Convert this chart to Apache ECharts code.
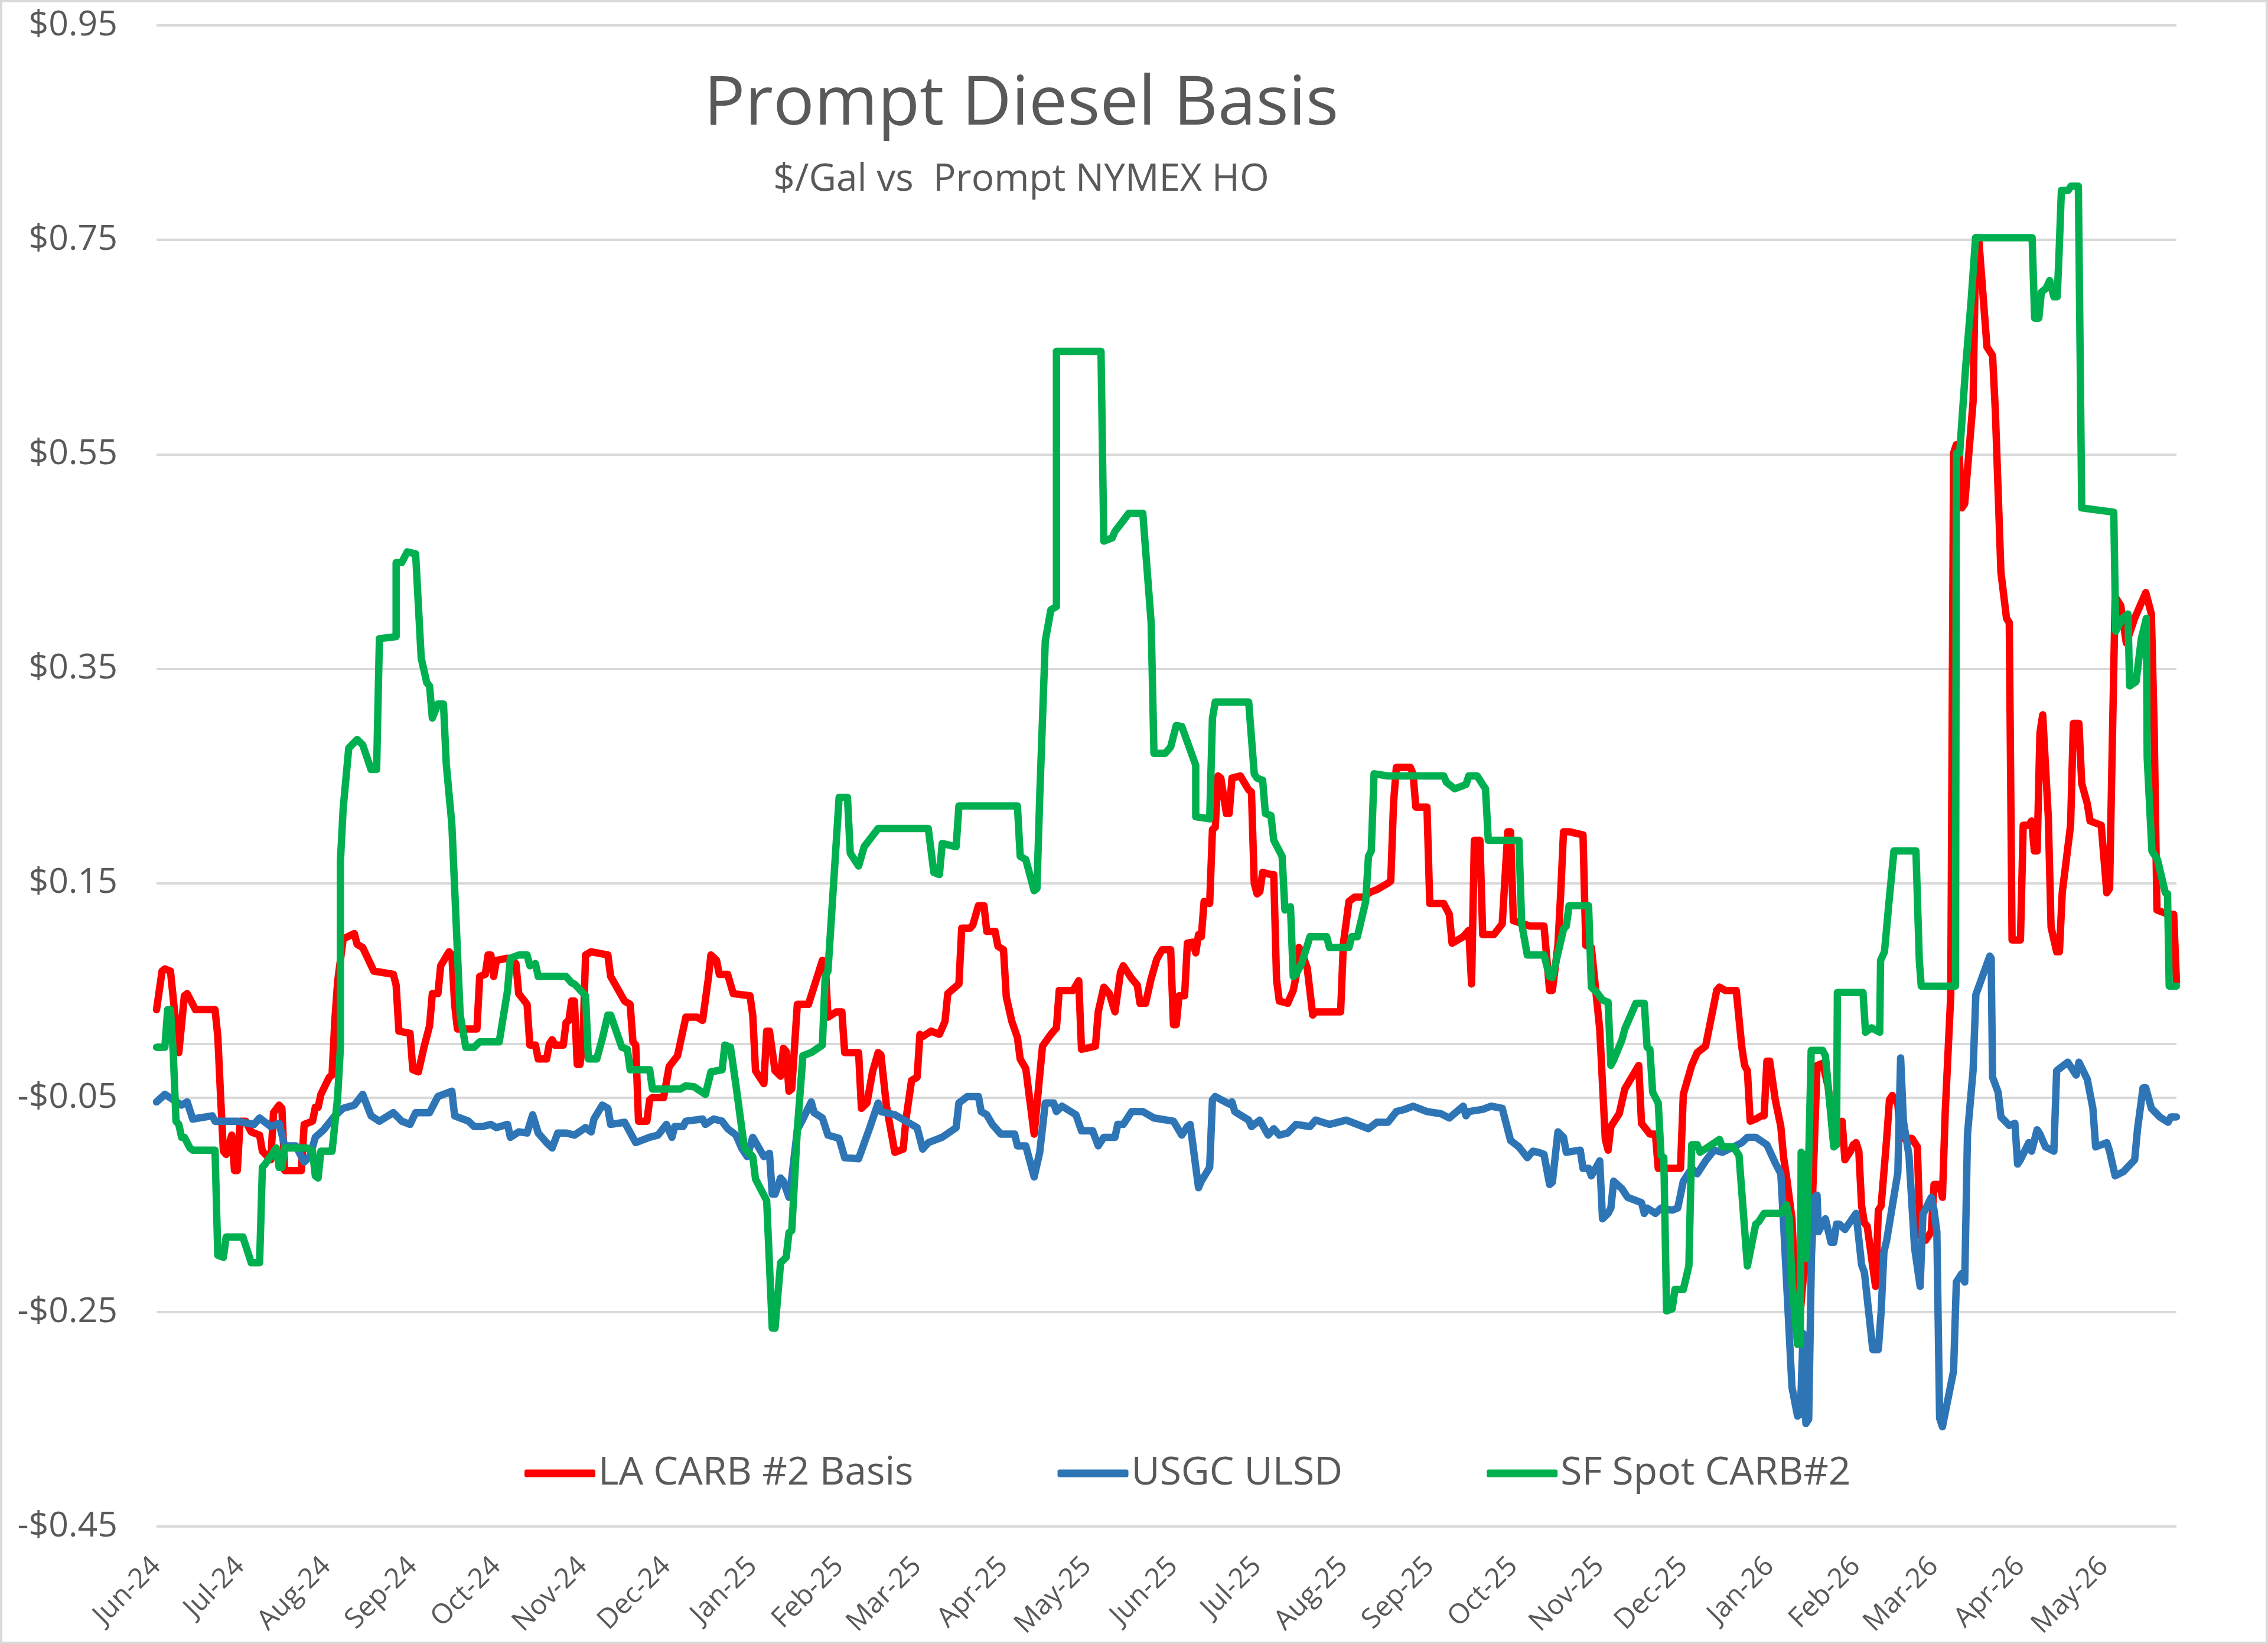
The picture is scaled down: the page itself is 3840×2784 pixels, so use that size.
<!DOCTYPE html>
<html>
<head>
<meta charset="utf-8">
<title>Prompt Diesel Basis</title>
<script src="https://cdn.jsdelivr.net/npm/echarts@6/dist/echarts.min.js"></script>
<style>
  html, body { margin: 0; padding: 0; background: #ffffff; }
  #chart { width: 3840px; height: 2784px; }
</style>
</head>
<body>
<div id="chart"></div>
<script>
// x = days since 2024-06-01, y = $/gal vs prompt NYMEX HO
const START = Date.UTC(2024, 5, 1);
const DAY = 86400000;
const AXIS_DAYS = 725;

const monthLabels = ['Jun-24', 'Jul-24', 'Aug-24', 'Sep-24', 'Oct-24', 'Nov-24', 'Dec-24',
  'Jan-25', 'Feb-25', 'Mar-25', 'Apr-25', 'May-25', 'Jun-25', 'Jul-25', 'Aug-25', 'Sep-25',
  'Oct-25', 'Nov-25', 'Dec-25', 'Jan-26', 'Feb-26', 'Mar-26', 'Apr-26', 'May-26'];

const seriesNames = ['LA CARB #2 Basis', 'USGC ULSD', 'SF Spot CARB#2'];

// LA CARB #2 Basis [day, value]
const laBasis = [[0,0.032],[2,0.068],[3,0.070],[5,0.068],[8,-0.008],[10,0.045],[11,0.047],[14,0.032],[21,0.032],[22,0.007],[23,-0.049],[24,-0.100],[25,-0.103],[27,-0.085],[28,-0.118],[29,-0.118],[30,-0.072],[32,-0.072],[34,-0.082],[37,-0.085],[38,-0.100],[41,-0.108],[42,-0.064],[44,-0.057],[45,-0.060],[46,-0.118],[52,-0.118],[53,-0.075],[56,-0.072],[57,-0.059],[58,-0.059],[59,-0.047],[62,-0.031],[63,-0.029],[64,0.022],[65,0.058],[67,0.098],[71,0.103],[72,0.093],[74,0.090],[78,0.068],[85,0.065],[86,0.055],[87,0.012],[91,0.010],[92,-0.024],[94,-0.026],[96,-0.003],[98,0.017],[99,0.047],[101,0.047],[102,0.073],[105,0.086],[106,0.083],[107,0.037],[108,0.014],[115,0.014],[116,0.063],[118,0.065],[119,0.083],[120,0.083],[121,0.063],[122,0.078],[126,0.080],[129,0.075],[130,0.047],[133,0.037],[134,-0.001],[136,-0.001],[137,-0.014],[140,-0.014],[141,0.000],[142,0.004],[143,-0.001],[146,-0.001],[147,0.020],[148,0.022],[149,0.040],[150,0.040],[151,-0.019],[152,-0.019],[153,0.000],[154,0.083],[156,0.086],[162,0.083],[163,0.063],[168,0.040],[170,0.037],[171,0.002],[172,-0.001],[173,-0.072],[176,-0.072],[177,-0.052],[178,-0.050],[182,-0.050],[184,-0.021],[187,-0.011],[190,0.025],[194,0.025],[196,0.022],[198,0.060],[199,0.083],[201,0.078],[202,0.065],[205,0.065],[207,0.047],[213,0.045],[214,0.027],[215,-0.025],[218,-0.037],[219,0.012],[220,0.012],[222,-0.025],[224,-0.030],[225,-0.004],[226,-0.007],[227,-0.044],[228,-0.042],[230,0.037],[234,0.037],[239,0.078],[240,0.076],[241,0.025],[244,0.030],[246,0.030],[247,-0.008],[252,-0.008],[253,-0.060],[255,-0.055],[257,-0.026],[259,-0.008],[260,-0.010],[262,-0.058],[265,-0.101],[268,-0.098],[269,-0.070],[271,-0.034],[273,-0.031],[274,0.009],[275,0.007],[278,0.012],[281,0.009],[283,0.021],[284,0.047],[288,0.056],[289,0.108],[292,0.108],[293,0.111],[295,0.129],[297,0.129],[298,0.105],[301,0.105],[302,0.091],[304,0.088],[305,0.044],[307,0.021],[309,0.006],[310,-0.014],[312,-0.023],[315,-0.084],[318,-0.002],[321,0.009],[323,0.015],[324,0.050],[329,0.050],[331,0.059],[332,-0.005],[337,-0.002],[338,0.030],[340,0.053],[342,0.047],[344,0.030],[346,0.067],[347,0.073],[350,0.061],[352,0.055],[353,0.038],[355,0.038],[357,0.061],[359,0.079],[361,0.088],[364,0.088],[365,0.018],[366,0.018],[367,0.045],[369,0.045],[370,0.094],[372,0.095],[373,0.085],[374,0.102],[375,0.100],[376,0.133],[378,0.131],[379,0.200],[380,0.202],[381,0.250],[382,0.248],[384,0.215],[385,0.215],[386,0.248],[389,0.250],[392,0.237],[393,0.235],[394,0.150],[395,0.140],[396,0.142],[397,0.160],[400,0.158],[401,0.158],[402,0.060],[403,0.040],[406,0.038],[408,0.050],[409,0.063],[410,0.090],[411,0.086],[413,0.071],[415,0.027],[416,0.030],[425,0.030],[426,0.094],[428,0.133],[430,0.137],[433,0.137],[436,0.142],[438,0.144],[442,0.150],[443,0.152],[444,0.225],[445,0.258],[450,0.258],[451,0.252],[452,0.221],[456,0.221],[457,0.131],[462,0.131],[464,0.121],[465,0.094],[469,0.100],[471,0.106],[472,0.056],[473,0.190],[475,0.190],[476,0.102],[480,0.102],[483,0.112],[485,0.198],[486,0.198],[487,0.115],[493,0.110],[498,0.110],[500,0.050],[501,0.050],[503,0.092],[504,0.141],[505,0.198],[507,0.198],[512,0.195],[513,0.092],[515,0.090],[518,0.014],[520,-0.089],[521,-0.099],[522,-0.077],[525,-0.065],[527,-0.042],[532,-0.020],[533,-0.074],[536,-0.084],[538,-0.084],[539,-0.116],[547,-0.116],[548,-0.047],[551,-0.020],[553,-0.008],[556,-0.002],[560,0.050],[561,0.053],[563,0.050],[567,0.050],[569,-0.003],[570,-0.020],[571,-0.025],[572,-0.072],[574,-0.070],[576,-0.067],[577,-0.067],[578,-0.016],[579,-0.016],[581,-0.052],[583,-0.077],[584,-0.106],[585,-0.123],[587,-0.163],[589,-0.280],[591,-0.220],[592,-0.205],[594,-0.172],[596,-0.020],[598,-0.018],[600,-0.040],[602,-0.087],[604,-0.075],[605,-0.072],[606,-0.108],[608,-0.100],[609,-0.094],[610,-0.092],[611,-0.100],[612,-0.151],[613,-0.167],[614,-0.170],[617,-0.226],[618,-0.155],[619,-0.151],[621,-0.088],[622,-0.052],[623,-0.048],[625,-0.056],[626,-0.088],[630,-0.088],[632,-0.096],[633,-0.179],[635,-0.183],[637,-0.175],[638,-0.131],[640,-0.131],[641,-0.143],[642,-0.064],[644,0.046],[645,0.551],[646,0.559],[647,0.551],[648,0.500],[649,0.504],[652,0.599],[653,0.752],[654,0.752],[657,0.650],[659,0.642],[660,0.590],[662,0.440],[664,0.397],[665,0.393],[666,0.097],[669,0.097],[670,0.204],[672,0.204],[673,0.208],[674,0.180],[675,0.180],[676,0.290],[677,0.307],[678,0.259],[679,0.212],[680,0.109],[682,0.086],[683,0.086],[684,0.141],[687,0.204],[688,0.299],[690,0.299],[691,0.243],[693,0.224],[694,0.208],[698,0.204],[700,0.141],[701,0.145],[702,0.283],[703,0.417],[705,0.409],[707,0.374],[710,0.397],[714,0.421],[716,0.401],[717,0.295],[718,0.125],[722,0.121],[724,0.121],[725,0.058]];

// USGC ULSD [day, value]
const usgcUlsd = [[0,-0.054],[3,-0.047],[6,-0.052],[9,-0.057],[11,-0.054],[13,-0.070],[20,-0.067],[21,-0.072],[29,-0.072],[33,-0.074],[35,-0.075],[37,-0.069],[41,-0.077],[44,-0.074],[46,-0.095],[50,-0.095],[53,-0.110],[55,-0.105],[57,-0.087],[60,-0.080],[64,-0.067],[67,-0.060],[71,-0.057],[74,-0.047],[77,-0.067],[80,-0.072],[85,-0.064],[88,-0.072],[91,-0.075],[93,-0.064],[98,-0.064],[101,-0.049],[106,-0.044],[107,-0.067],[112,-0.072],[114,-0.077],[117,-0.077],[120,-0.075],[122,-0.078],[126,-0.075],[127,-0.087],[130,-0.082],[133,-0.083],[135,-0.066],[137,-0.083],[140,-0.092],[142,-0.097],[144,-0.083],[147,-0.083],[150,-0.085],[154,-0.078],[156,-0.082],[157,-0.070],[160,-0.057],[162,-0.060],[163,-0.075],[168,-0.073],[172,-0.092],[177,-0.087],[180,-0.085],[183,-0.075],[185,-0.087],[186,-0.077],[189,-0.077],[190,-0.072],[196,-0.070],[197,-0.075],[200,-0.070],[203,-0.072],[205,-0.079],[208,-0.085],[210,-0.097],[212,-0.105],[214,-0.087],[218,-0.105],[220,-0.102],[221,-0.140],[222,-0.140],[224,-0.125],[225,-0.128],[227,-0.143],[228,-0.125],[230,-0.080],[232,-0.070],[235,-0.054],[236,-0.064],[239,-0.069],[241,-0.085],[245,-0.088],[247,-0.106],[252,-0.107],[256,-0.078],[259,-0.055],[260,-0.063],[265,-0.066],[269,-0.072],[273,-0.078],[275,-0.098],[277,-0.092],[282,-0.087],[287,-0.078],[288,-0.055],[291,-0.049],[295,-0.049],[296,-0.063],[298,-0.066],[300,-0.075],[303,-0.084],[308,-0.084],[309,-0.095],[312,-0.095],[315,-0.124],[317,-0.101],[319,-0.055],[322,-0.055],[323,-0.063],[325,-0.058],[330,-0.066],[332,-0.081],[336,-0.081],[338,-0.095],[340,-0.087],[344,-0.087],[345,-0.075],[347,-0.075],[350,-0.063],[354,-0.063],[358,-0.069],[365,-0.072],[368,-0.085],[370,-0.077],[371,-0.075],[374,-0.134],[375,-0.128],[378,-0.115],[379,-0.052],[380,-0.049],[385,-0.056],[386,-0.054],[387,-0.063],[392,-0.071],[393,-0.077],[396,-0.071],[399,-0.085],[401,-0.079],[403,-0.085],[406,-0.083],[409,-0.075],[414,-0.077],[416,-0.071],[421,-0.075],[427,-0.071],[435,-0.079],[438,-0.073],[442,-0.073],[445,-0.063],[448,-0.061],[451,-0.058],[456,-0.063],[461,-0.065],[464,-0.069],[469,-0.058],[470,-0.067],[471,-0.063],[476,-0.061],[479,-0.058],[483,-0.060],[486,-0.090],[489,-0.096],[492,-0.106],[494,-0.100],[496,-0.101],[498,-0.103],[500,-0.131],[501,-0.129],[503,-0.082],[505,-0.087],[506,-0.101],[511,-0.099],[512,-0.116],[514,-0.116],[515,-0.123],[518,-0.109],[519,-0.163],[521,-0.158],[522,-0.153],[523,-0.128],[526,-0.135],[528,-0.143],[533,-0.148],[534,-0.158],[535,-0.153],[538,-0.158],[540,-0.153],[544,-0.155],[546,-0.153],[548,-0.128],[551,-0.116],[553,-0.121],[556,-0.109],[559,-0.099],[562,-0.101],[566,-0.096],[569,-0.092],[571,-0.087],[574,-0.087],[578,-0.094],[581,-0.111],[583,-0.121],[584,-0.168],[587,-0.320],[589,-0.347],[590,-0.345],[591,-0.270],[592,-0.354],[593,-0.350],[594,-0.197],[595,-0.143],[596,-0.141],[596.5,-0.175],[599,-0.163],[601,-0.185],[602,-0.185],[603,-0.168],[604,-0.168],[606,-0.173],[610,-0.158],[612,-0.206],[613,-0.213],[615,-0.261],[616,-0.285],[618,-0.285],[619,-0.250],[620,-0.194],[621,-0.183],[625,-0.120],[626,-0.013],[627,-0.072],[629,-0.104],[631,-0.190],[633,-0.226],[634,-0.159],[637,-0.143],[638,-0.155],[639,-0.175],[640,-0.349],[641,-0.357],[645,-0.305],[646,-0.222],[648,-0.214],[649,-0.222],[650,-0.084],[652,-0.025],[653,0.046],[658,0.082],[658.5,0.080],[659,-0.031],[661,-0.045],[662,-0.068],[665,-0.076],[667,-0.074],[668,-0.112],[669,-0.108],[672,-0.092],[673,-0.100],[675,-0.080],[676,-0.084],[678,-0.096],[681,-0.100],[682,-0.025],[686,-0.017],[689,-0.029],[690,-0.017],[693,-0.033],[695,-0.060],[696,-0.096],[700,-0.092],[701,-0.100],[703,-0.123],[706,-0.119],[710,-0.108],[711,-0.080],[713,-0.041],[714,-0.041],[716,-0.060],[719,-0.068],[722,-0.073],[723,-0.068],[725,-0.068]];

// SF Spot CARB#2 [day, value]
const sfSpot = [[0,-0.003],[3,-0.003],[4,0.032],[5,0.032],[6,-0.008],[7,-0.072],[8,-0.075],[9,-0.087],[10,-0.087],[12,-0.097],[13,-0.099],[21,-0.099],[22,-0.197],[24,-0.199],[25,-0.180],[31,-0.180],[34,-0.204],[37,-0.204],[38,-0.115],[39,-0.112],[43,-0.097],[44,-0.115],[45,-0.115],[46,-0.097],[54,-0.097],[56,-0.100],[57,-0.123],[58,-0.125],[59,-0.100],[63,-0.100],[65,-0.050],[66,-0.003],[66,0.170],[67,0.220],[69,0.276],[72,0.284],[74,0.279],[77,0.256],[79,0.256],[80,0.378],[86,0.380],[86,0.449],[88,0.449],[90,0.459],[93,0.457],[95,0.360],[97,0.337],[98,0.334],[99,0.304],[101,0.317],[103,0.317],[104,0.261],[106,0.205],[109,0.027],[111,-0.003],[114,-0.003],[116,0.002],[123,0.002],[126,0.050],[127,0.080],[130,0.083],[133,0.083],[134,0.073],[136,0.075],[137,0.063],[147,0.063],[149,0.057],[150,0.056],[154,0.045],[155,-0.014],[158,-0.014],[160,0.005],[162,0.027],[163,0.027],[167,-0.003],[169,-0.005],[170,-0.024],[177,-0.024],[178,-0.042],[188,-0.042],[190,-0.039],[193,-0.040],[197,-0.047],[199,-0.026],[203,-0.024],[204,-0.001],[206,-0.003],[208,-0.039],[211,-0.097],[214,-0.105],[215,-0.126],[219,-0.146],[221,-0.265],[222,-0.265],[224,-0.204],[226,-0.199],[227,-0.176],[228,-0.174],[230,-0.080],[232,-0.011],[235,-0.008],[239,-0.001],[240,0.063],[241,0.068],[243,0.149],[245,0.230],[248,0.230],[249,0.178],[252,0.166],[254,0.184],[259,0.201],[277,0.201],[279,0.160],[281,0.158],[282,0.187],[287,0.184],[288,0.222],[309,0.222],[310,0.175],[312,0.172],[315,0.143],[316,0.145],[317,0.230],[319,0.376],[321,0.405],[323,0.408],[323,0.646],[339,0.646],[340,0.469],[343,0.472],[344,0.478],[349,0.495],[354,0.495],[357,0.393],[358,0.271],[362,0.271],[364,0.277],[366,0.297],[368,0.296],[373,0.260],[373,0.212],[378,0.210],[379,0.304],[380,0.319],[392,0.319],[394,0.252],[395,0.248],[397,0.246],[398,0.215],[400,0.213],[401,0.190],[404,0.175],[405,0.125],[407,0.128],[408,0.063],[409,0.065],[411,0.075],[414,0.100],[420,0.100],[421,0.090],[428,0.090],[429,0.100],[431,0.100],[434,0.133],[435,0.175],[436,0.180],[437,0.252],[442,0.250],[462,0.250],[463,0.244],[466,0.238],[470,0.242],[471,0.250],[474,0.250],[477,0.238],[478,0.190],[489,0.190],[490,0.112],[492,0.083],[498,0.083],[500,0.063],[501,0.062],[505,0.107],[506,0.110],[507,0.129],[514,0.129],[515,0.053],[517,0.048],[519,0.041],[521,0.039],[522,-0.020],[523,-0.015],[526,0.004],[527,0.014],[531,0.038],[534,0.038],[535,-0.003],[536,-0.005],[537,-0.045],[539,-0.055],[540,-0.104],[541,-0.106],[542,-0.249],[544,-0.247],[545,-0.229],[548,-0.229],[550,-0.207],[551,-0.094],[553,-0.094],[554,-0.101],[557,-0.096],[561,-0.089],[562,-0.096],[566,-0.096],[568,-0.104],[571,-0.207],[574,-0.168],[575,-0.166],[577,-0.158],[583,-0.158],[585,-0.150],[586,-0.162],[587,-0.222],[589,-0.280],[590,-0.280],[590.3,-0.101],[591,-0.103],[591.5,-0.197],[592.2,-0.200],[593.9,-0.006],[598,-0.006],[599,-0.011],[602,-0.096],[603,-0.094],[603.3,0.048],[612.5,0.048],[613.4,0.011],[615.6,0.015],[618.5,0.011],[618.8,0.078],[620.2,0.086],[621.7,0.129],[623.6,0.180],[631.5,0.180],[632.7,0.078],[633.4,0.054],[645.7,0.054],[646,0.551],[647.2,0.551],[649.3,0.630],[651.3,0.693],[652.9,0.752],[673.2,0.752],[674.1,0.677],[675.6,0.677],[676.5,0.701],[678.3,0.705],[679.5,0.712],[681,0.697],[682.2,0.697],[682.8,0.733],[683.7,0.796],[686.1,0.796],[687.1,0.800],[689.8,0.800],[691,0.500],[702.5,0.496],[703.2,0.385],[705.6,0.397],[707.6,0.401],[708.2,0.334],[710.5,0.338],[712.4,0.378],[714.2,0.397],[714.5,0.267],[716.2,0.180],[718.2,0.172],[721,0.141],[721.8,0.140],[722.4,0.054],[725,0.054]];

const colors = ['#FF0000', '#2E75B6', '#00B050'];
const textColor = '#595959';
const gridColor = '#D9D9D9';
const FONT = '"Open Sans", "Noto Sans", sans-serif';

// 月初位置 (距 2024-06-01 的天数)
const monthDays = monthLabels.map((_, i) => (Date.UTC(2024, 5 + i, 1) - START) / DAY);

function monthLabel(value) {
  const idx = monthDays.indexOf(Math.round(value));
  return idx >= 0 ? monthLabels[idx] : '';
}

function money(v) {
  const a = Math.abs(v).toFixed(2);
  return (v < -1e-9 ? '-$' : '$') + a;
}

function lineSeries(name, points, color, extra) {
  return Object.assign({
    name: name,
    type: 'line',
    data: points,
    showSymbol: false,
    symbol: 'none',
    smooth: false,
    color: color,
    lineStyle: { color: color, width: 12.5, cap: 'round', join: 'round' },
    emphasis: { disabled: true },
  }, extra || {});
}

const chart = echarts.init(document.getElementById('chart'), null, { renderer: 'canvas' });

const option = {
  animation: false,
  backgroundColor: '#ffffff',
  textStyle: { fontFamily: FONT },
  grid: {
    left: 265,
    right: 155,
    top: 43,
    bottom: 199,
    containLabel: false,
    outerBoundsMode: 'none',
  },
  legend: {
    data: seriesNames,
    left: 888,
    top: 2462,
    itemWidth: 120,
    itemHeight: 13,
    itemGap: 244,
    icon: 'roundRect',
    padding: 0,
    textStyle: { fontSize: 66, color: textColor, fontFamily: FONT },
  },
  xAxis: {
    type: 'value',
    min: 0,
    max: AXIS_DAYS,
    axisLine: { show: false, onZero: false },
    axisTick: { show: false },
    splitLine: { show: false },
    axisLabel: {
      customValues: monthDays,
      formatter: monthLabel,
      rotate: 45,
      margin: 60,
      fontSize: 47,
      color: textColor,
      fontFamily: FONT,
    },
  },
  yAxis: {
    type: 'value',
    min: -0.45,
    max: 0.95,
    interval: 0.2,
    axisLine: { show: false },
    axisTick: { show: false },
    splitLine: { show: true, lineStyle: { color: gridColor, width: 4 } },
    axisLabel: {
      formatter: money,
      margin: 66,
      fontSize: 59,
      color: textColor,
      fontFamily: FONT,
    },
  },
  graphic: [
    {
      type: 'rect',
      silent: true,
      shape: { x: 2, y: 2, width: 3836, height: 2780 },
      style: { fill: 'none', stroke: gridColor, lineWidth: 4 },
    },
    {
      type: 'text',
      silent: true,
      x: 1729,
      y: 178,
      style: {
        text: 'Prompt Diesel Basis',
        fontSize: 116,
        fontFamily: FONT,
        fill: textColor,
        align: 'center',
        verticalAlign: 'middle',
      },
    },
    {
      type: 'text',
      silent: true,
      x: 1729,
      y: 305,
      style: {
        text: '$/Gal vs  Prompt NYMEX HO',
        fontSize: 64,
        fontFamily: FONT,
        fill: textColor,
        align: 'center',
        verticalAlign: 'middle',
      },
    },
  ],
  series: [
    lineSeries(seriesNames[0], laBasis, colors[0], {
      // 零轴线 (Excel 横轴位于 0)
      markLine: {
        silent: true,
        z: 1,
        symbol: ['none', 'none'],
        label: { show: false },
        lineStyle: { color: gridColor, width: 4, type: 'solid' },
        emphasis: { disabled: true },
        data: [{ yAxis: 0 }],
      },
    }),
    lineSeries(seriesNames[1], usgcUlsd, colors[1]),
    lineSeries(seriesNames[2], sfSpot, colors[2]),
  ],
};

chart.setOption(option);
</script>
</body>
</html>
